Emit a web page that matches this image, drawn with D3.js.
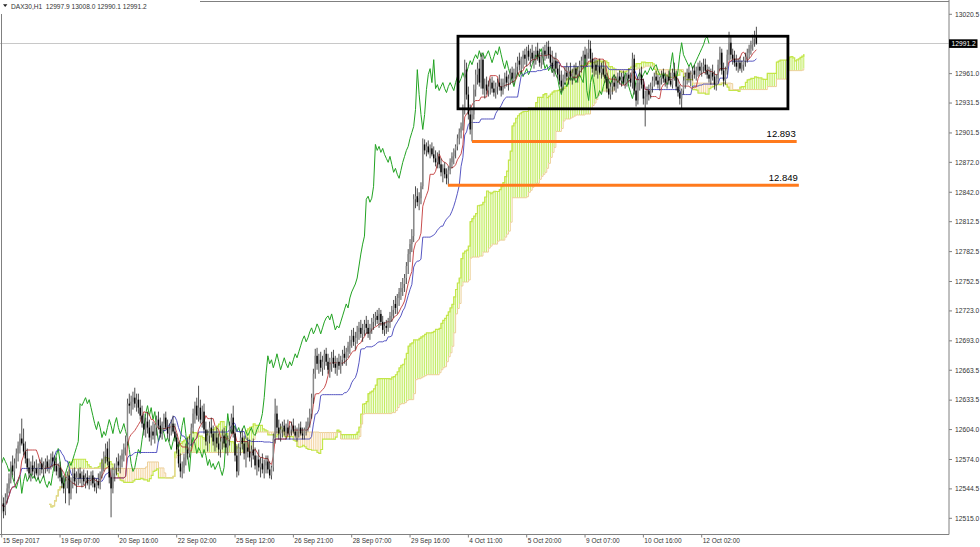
<!DOCTYPE html>
<html><head><meta charset="utf-8">
<script src="https://cdn.jsdelivr.net/npm/d3@7"></script>
<style>html,body{margin:0;padding:0;background:#fff;}svg{display:block;font-family:"Liberation Sans",Arial,sans-serif;}</style>
</head><body><svg id="c" width="980" height="547"></svg>
<script>
const symbolInfo = "DAX30,H1  12997.9 13008.0 12990.1 12991.2";
// [open, high, low, close] per hourly bar
const candles = [
[12528,12538,12520,12530],[12530,12536,12515,12522],[12522,12540,12518,12536],[12536,12550,12530,12545],[12545,12560,12540,12555],
[12555,12572,12550,12568],[12568,12578,12558,12562],[12562,12575,12552,12570],[12570,12585,12565,12580],[12580,12592,12572,12588],
[12588,12600,12580,12595],[12595,12615,12588,12590],[12590,12605,12578,12582],[12582,12592,12570,12575],[12575,12585,12562,12566],
[12566,12575,12555,12560],[12560,12572,12552,12568],[12568,12578,12558,12562],[12562,12572,12555,12565],[12565,12574,12558,12560],
[12560,12570,12554,12566],[12566,12574,12558,12570],[12570,12576,12560,12564],[12564,12572,12556,12568],[12568,12575,12560,12572],
[12572,12578,12562,12566],[12566,12574,12560,12570],[12570,12580,12564,12576],[12576,12582,12566,12572],[12572,12578,12562,12568],
[12568,12576,12558,12562],[12562,12570,12555,12566],[12566,12572,12552,12556],[12556,12564,12545,12550],[12550,12558,12540,12545],
[12545,12556,12530,12552],[12552,12562,12545,12558],[12558,12564,12528,12540],[12540,12556,12534,12552],[12552,12565,12545,12560],
[12560,12566,12548,12552],[12552,12562,12540,12556],[12556,12565,12548,12560],[12560,12566,12550,12555],[12555,12562,12546,12558],
[12558,12564,12548,12552],[12552,12560,12545,12556],[12556,12563,12548,12550],[12550,12558,12544,12554],[12554,12562,12548,12558],
[12558,12563,12546,12550],[12550,12556,12542,12546],[12546,12555,12540,12552],[12552,12560,12545,12548],[12548,12562,12544,12560],
[12560,12575,12555,12570],[12570,12582,12562,12578],[12578,12590,12570,12585],[12585,12592,12568,12572],[12572,12595,12550,12556],
[12556,12565,12516,12545],[12545,12566,12540,12560],[12560,12570,12552,12566],[12566,12576,12558,12572],[12572,12580,12562,12568],
[12568,12578,12560,12574],[12574,12584,12566,12580],[12580,12590,12572,12586],[12586,12598,12578,12592],[12592,12635,12588,12630],
[12630,12640,12620,12628],[12628,12638,12618,12632],[12632,12642,12624,12636],[12636,12646,12626,12630],[12630,12640,12622,12634],
[12634,12640,12620,12626],[12626,12634,12614,12618],[12618,12628,12606,12610],[12610,12620,12598,12604],[12604,12616,12596,12612],
[12612,12622,12600,12606],[12606,12614,12592,12596],[12596,12608,12588,12602],[12602,12612,12594,12598],[12598,12610,12590,12606],
[12606,12618,12598,12614],[12614,12622,12604,12608],[12608,12616,12596,12600],[12600,12612,12594,12610],[12610,12620,12602,12616],
[12616,12622,12604,12606],[12606,12614,12596,12600],[12600,12610,12592,12604],[12604,12614,12598,12610],[12610,12618,12600,12602],
[12602,12610,12592,12596],[12596,12600,12580,12584],[12584,12592,12566,12570],[12570,12580,12556,12562],[12562,12572,12555,12566],
[12566,12580,12560,12576],[12576,12590,12568,12584],[12584,12596,12574,12580],[12580,12598,12576,12594],[12594,12610,12588,12606],
[12606,12625,12600,12620],[12620,12632,12610,12628],[12628,12636,12614,12618],[12618,12648,12612,12626],[12626,12634,12610,12614],
[12614,12628,12606,12622],[12622,12630,12600,12604],[12604,12612,12588,12592],[12592,12604,12582,12598],[12598,12612,12590,12606],
[12606,12616,12596,12600],[12600,12608,12588,12592],[12592,12602,12582,12596],[12596,12606,12586,12590],[12590,12600,12578,12584],
[12584,12596,12576,12592],[12592,12604,12584,12598],[12598,12606,12586,12590],[12590,12600,12580,12586],[12586,12598,12578,12594],
[12594,12612,12588,12608],[12608,12620,12600,12616],[12616,12628,12596,12600],[12600,12606,12572,12578],[12578,12588,12556,12562],
[12562,12590,12558,12586],[12586,12602,12578,12596],[12596,12605,12584,12590],[12590,12598,12574,12580],[12580,12592,12566,12586],
[12586,12596,12576,12582],[12582,12594,12572,12576],[12576,12588,12566,12584],[12584,12595,12574,12578],[12578,12586,12564,12568],
[12568,12578,12558,12574],[12574,12584,12562,12566],[12566,12576,12556,12570],[12570,12580,12560,12564],[12564,12574,12555,12568],
[12568,12578,12560,12572],[12572,12578,12560,12564],[12564,12572,12555,12558],[12558,12568,12554,12566],[12566,12600,12562,12595],
[12595,12635,12590,12620],[12620,12628,12600,12606],[12606,12614,12594,12600],[12600,12610,12592,12604],[12604,12612,12596,12608],
[12608,12614,12598,12602],[12602,12610,12594,12606],[12606,12614,12598,12600],[12600,12608,12594,12604],[12604,12612,12598,12608],
[12608,12615,12600,12602],[12602,12608,12596,12598],[12598,12606,12592,12602],[12602,12610,12596,12606],[12606,12612,12598,12600],
[12600,12606,12594,12598],[12598,12606,12594,12604],[12604,12612,12598,12608],[12608,12616,12602,12612],[12612,12625,12606,12620],
[12620,12640,12615,12636],[12636,12665,12630,12660],[12660,12685,12655,12678],[12678,12686,12664,12670],[12670,12680,12660,12674],
[12674,12682,12662,12666],[12666,12678,12658,12672],[12672,12684,12664,12680],[12680,12686,12668,12672],[12672,12680,12660,12664],
[12664,12676,12656,12670],[12670,12682,12662,12676],[12676,12684,12666,12670],[12670,12678,12660,12666],[12666,12676,12658,12672],
[12672,12680,12664,12668],[12668,12678,12660,12674],[12674,12684,12668,12680],[12680,12688,12670,12676],[12676,12686,12668,12682],
[12682,12692,12676,12688],[12688,12698,12680,12694],[12694,12704,12686,12698],[12698,12706,12688,12692],[12692,12702,12684,12696],
[12696,12708,12690,12702],[12702,12712,12694,12706],[12706,12714,12696,12700],[12700,12710,12692,12704],[12704,12714,12698,12710],
[12710,12718,12700,12706],[12706,12714,12696,12700],[12700,12710,12694,12706],[12706,12716,12700,12712],[12712,12720,12704,12716],
[12716,12722,12708,12718],[12718,12724,12710,12714],[12714,12726,12706,12720],[12720,12724,12708,12712],[12712,12718,12700,12704],
[12704,12712,12698,12708],[12708,12714,12700,12706],[12706,12716,12702,12712],[12712,12722,12706,12718],[12718,12728,12712,12724],
[12724,12734,12716,12730],[12730,12738,12720,12726],[12726,12740,12720,12736],[12736,12746,12728,12742],[12742,12752,12734,12746],
[12746,12756,12738,12750],[12750,12760,12742,12756],[12756,12772,12750,12768],[12768,12785,12760,12780],[12780,12795,12772,12790],
[12790,12805,12782,12798],[12798,12840,12792,12835],[12835,12848,12826,12838],[12838,12846,12828,12832],[12832,12842,12824,12836],
[12836,12852,12830,12848],[12848,12896,12845,12890],[12890,12895,12880,12884],[12884,12892,12878,12888],[12888,12894,12880,12882],
[12882,12890,12876,12886],[12886,12892,12878,12880],[12880,12888,12872,12876],[12876,12884,12868,12872],[12872,12882,12866,12878],
[12878,12884,12866,12870],[12870,12876,12858,12862],[12862,12870,12852,12866],[12866,12872,12856,12860],[12860,12866,12850,12856],
[12856,12868,12849,12864],[12864,12876,12860,12872],[12872,12882,12866,12878],[12878,12886,12870,12884],[12884,12890,12876,12888],
[12888,12900,12884,12896],[12896,12906,12890,12902],[12902,12912,12896,12908],[12908,12930,12904,12925],[12925,12975,12920,12965],
[12965,12972,12935,12940],[12940,12948,12915,12920],[12920,12930,12900,12905],[12905,12925,12893,12920],[12920,12950,12915,12945],
[12945,12965,12938,12960],[12960,12972,12950,12966],[12966,12975,12948,12952],[12952,12982,12946,12975],[12975,12980,12940,12946],
[12946,12956,12936,12950],[12950,12958,12940,12944],[12944,12954,12938,12948],[12948,12956,12940,12952],[12952,12958,12942,12946],
[12946,12954,12938,12942],[12942,12952,12936,12948],[12948,12956,12940,12952],[12952,12960,12944,12948],[12948,12956,12938,12944],
[12944,12956,12940,12952],[12952,12962,12946,12958],[12958,12964,12948,12952],[12952,12960,12944,12956],[12956,12966,12950,12962],
[12962,12968,12952,12956],[12956,12966,12950,12962],[12962,12972,12956,12968],[12968,12978,12960,12974],[12974,12982,12964,12970],
[12970,12978,12960,12976],[12976,12984,12966,12980],[12980,12986,12970,12976],[12976,12988,12968,12984],[12984,12990,12974,12978],
[12978,12986,12968,12982],[12982,12990,12972,12976],[12976,12984,12966,12980],[12980,12988,12970,12984],[12984,12992,12974,12978],
[12978,12986,12968,12972],[12972,12982,12966,12978],[12978,12988,12970,12984],[12984,12990,12974,12980],[12980,12993,12976,12988],
[12988,12994,12976,12980],[12980,12988,12968,12972],[12972,12984,12962,12966],[12966,12978,12958,12974],[12974,12982,12962,12966],
[12966,12974,12956,12960],[12960,12970,12950,12954],[12954,12964,12942,12948],[12948,12960,12944,12956],[12956,12968,12950,12962],
[12962,12972,12954,12958],[12958,12968,12950,12964],[12964,12972,12954,12958],[12958,12966,12950,12962],[12962,12970,12954,12966],
[12966,12972,12956,12960],[12960,12968,12952,12964],[12964,12974,12958,12970],[12970,12978,12962,12974],[12974,12984,12966,12980],
[12980,12988,12970,12976],[12976,12986,12968,12982],[12982,12995,12976,12986],[12986,12994,12972,12976],[12976,12982,12962,12966],
[12966,12976,12958,12970],[12970,12976,12960,12964],[12964,12974,12956,12968],[12968,12976,12960,12962],[12962,12972,12956,12966],
[12966,12974,12958,12960],[12960,12968,12952,12956],[12956,12962,12942,12946],[12946,12956,12936,12940],[12940,12952,12935,12948],
[12948,12958,12940,12952],[12952,12960,12944,12948],[12948,12958,12942,12954],[12954,12962,12946,12958],[12958,12964,12950,12954],
[12954,12962,12948,12958],[12958,12964,12950,12952],[12952,12960,12946,12956],[12956,12962,12948,12960],[12960,12966,12952,12956],
[12956,12962,12948,12952],[12952,12982,12946,12976],[12976,12980,12940,12944],[12944,12952,12928,12934],[12934,12958,12930,12952],
[12952,12966,12944,12960],[12960,12968,12946,12950],[12950,12956,12930,12936],[12936,12944,12908,12938],[12938,12948,12930,12944],
[12944,12950,12934,12940],[12940,12952,12936,12948],[12948,12958,12942,12954],[12954,12962,12948,12958],[12958,12964,12950,12954],
[12954,12960,12946,12950],[12950,12958,12944,12956],[12956,12964,12950,12960],[12960,12966,12952,12956],[12956,12962,12948,12952],
[12952,12960,12946,12958],[12958,12964,12950,12954],[12954,12962,12948,12950],[12950,12966,12946,12962],[12962,12972,12954,12958],
[12958,12964,12944,12948],[12948,12956,12938,12942],[12942,12950,12930,12936],[12936,12946,12925,12944],[12944,12958,12940,12954],
[12954,12962,12946,12958],[12958,12966,12950,12962],[12962,12968,12952,12956],[12956,12964,12948,12960],[12960,12968,12954,12964],
[12964,12970,12956,12960],[12960,12968,12954,12964],[12964,12972,12958,12968],[12968,12974,12960,12964],[12964,12972,12958,12968],
[12968,12976,12962,12970],[12970,12976,12960,12964],[12964,12970,12956,12960],[12960,12968,12952,12956],[12956,12966,12950,12962],
[12962,12970,12954,12958],[12958,12964,12945,12950],[12950,12960,12944,12956],[12956,12975,12952,12970],[12970,12988,12964,12982],
[12982,12986,12960,12964],[12964,12972,12948,12954],[12954,12968,12950,12964],[12964,12985,12960,12980],[12980,13003,12974,12992],
[12992,12998,12975,12980],[12980,12986,12970,12976],[12976,12984,12968,12972],[12972,12980,12964,12968],[12968,12976,12962,12972],
[12972,12978,12964,12966],[12966,12974,12962,12970],[12970,12978,12964,12974],[12974,12982,12968,12978],[12978,12986,12972,12982],
[12982,12990,12976,12986],[12986,12994,12980,12990],[12990,13000,12984,12996],[12996,13004,12988,12998],[12997.9,13008.0,12990.1,12991.2]
];
const priceTicks = [13020.5,12961.0,12931.5,12901.5,12872.0,12842.0,12812.5,12782.5,12752.5,12723.0,12693.0,12663.5,12633.5,12604.0,12574.0,12544.5,12515.0];
const currentPrice = 12991.2;
const timeLabels = ["15 Sep 2017","19 Sep 07:00","20 Sep 16:00","22 Sep 02:00","25 Sep 12:00","26 Sep 21:00","28 Sep 07:00","29 Sep 16:00","4 Oct 11:00","5 Oct 20:00","9 Oct 07:00","10 Oct 16:00","12 Oct 02:00"];
const timeLabelBars = [0,32,64,96,128,160,192,224,256,288,320,352,384];
const levelPrices = [12893, 12849];
const levelLabels = ["12.893","12.849"];
const levelStartBars = [258, 244.8];
const levelEndBars = [436.1, 437.3];
const boxBars = [250.3, 431.3];
const boxPrices = [12998.5, 12925.7];
const tenkanLen = 9, kijunLen = 26, senkouLen = 52, ichiShift = 26;

const svg = d3.select("#c");
const plotR = 949, plotB = 534.5;
const x = d3.scaleLinear().domain([0, 384]).range([1.7, 701.7]);
const y = d3.scaleLinear().domain([12515.0, 13020.5]).range([518.3, 14.3]);

svg.append("defs").append("clipPath").attr("id","plot").append("rect")
  .attr("x",0).attr("y",0).attr("width",plotR).attr("height",plotB);
const g = svg.append("g").attr("clip-path","url(#plot)");

// Ichimoku computed from the candles
const N = candles.length;
function mid(i, len){
  const s = Math.max(0, i-len+1);
  let hi=-Infinity, lo=Infinity;
  for(let k=s;k<=i;k++){ hi=Math.max(hi,candles[k][1]); lo=Math.min(lo,candles[k][2]); }
  return (hi+lo)/2;
}
const tenkan = d3.range(N).map(i=>mid(i,tenkanLen));
const kijun = d3.range(N).map(i=>mid(i,kijunLen));
const spanB0 = d3.range(N).map(i=>mid(i,senkouLen));
const cloud = d3.range(N).map(i=>({i:i+ichiShift, a:(tenkan[i]+kijun[i])/2, b:spanB0[i]}));
const chikou = d3.range(ichiShift, N).map(i=>({i:i-ichiShift, v:candles[i][3]}));

// current price line
g.append("line").attr("x1",0).attr("x2",plotR).attr("y1",y(currentPrice)).attr("y2",y(currentPrice))
  .attr("stroke","#c8c8c8").attr("stroke-width",1);

// cloud hatch
g.selectAll("line.cl").data(cloud).join("line").attr("class","cl")
  .attr("x1",d=>x(d.i)).attr("x2",d=>x(d.i)).attr("y1",d=>y(d.a)).attr("y2",d=>y(d.b))
  .attr("stroke",d=>d.a>=d.b?"#c2ec60":"#f5d6a4").attr("stroke-width",1);
g.append("path").datum(cloud).attr("fill","none").attr("stroke","#c4e64a").attr("stroke-width",1.2)
  .attr("d",d3.line().x(d=>x(d.i)).y(d=>y(d.a)).curve(d3.curveStepAfter));
g.append("path").datum(cloud).attr("fill","none").attr("stroke","#eccf98").attr("stroke-width",1)
  .attr("d",d3.line().x(d=>x(d.i)).y(d=>y(d.b)).curve(d3.curveStepAfter));

// lines
g.append("path").datum(chikou).attr("fill","none").attr("stroke","#22a322").attr("stroke-width",1)
  .attr("d",d3.line().x(d=>x(d.i)).y(d=>y(d.v)));
g.append("path").datum(kijun).attr("fill","none").attr("stroke","#4444bb").attr("stroke-width",0.9)
  .attr("d",d3.line().x((d,i)=>x(i)).y(d=>y(d)));
g.append("path").datum(tenkan).attr("fill","none").attr("stroke","#c23a3a").attr("stroke-width",0.9)
  .attr("d",d3.line().x((d,i)=>x(i)).y(d=>y(d)));

// candles
const cg = g.append("g");
cg.selectAll("line.w").data(candles).join("line").attr("class","w")
  .attr("x1",(d,i)=>x(i)).attr("x2",(d,i)=>x(i)).attr("y1",d=>y(d[1])).attr("y2",d=>y(d[2]))
  .attr("stroke","#222").attr("stroke-width",0.8);
cg.selectAll("rect.b").data(candles).join("rect").attr("class","b")
  .attr("x",(d,i)=>x(i)-0.7).attr("width",1.4)
  .attr("y",d=>y(Math.max(d[0],d[3]))).attr("height",d=>Math.max(0.8,Math.abs(y(d[0])-y(d[3]))))
  .attr("fill",d=>d[3]>=d[0]?"#8a8a8a":"#000");

// box
g.append("rect").attr("x",x(boxBars[0])).attr("y",y(boxPrices[0]))
  .attr("width",x(boxBars[1])-x(boxBars[0])).attr("height",y(boxPrices[1])-y(boxPrices[0]))
  .attr("fill","none").attr("stroke","#000").attr("stroke-width",2.8);

// levels
levelPrices.forEach((p,k)=>{
  g.append("line").attr("x1",x(levelStartBars[k])).attr("x2",x(levelEndBars[k]))
    .attr("y1",y(p)).attr("y2",y(p)).attr("stroke","#ff7a1c").attr("stroke-width",3);
  g.append("text").attr("x",x(levelEndBars[k])-1).attr("y",y(p)-4.5).attr("text-anchor","end")
    .attr("font-size",9.5).attr("fill","#000").text(levelLabels[k]);
});

// frame
svg.append("line").attr("x1",plotR).attr("x2",plotR).attr("y1",0).attr("y2",plotB).attr("stroke","#808080");
svg.append("line").attr("x1",0).attr("x2",plotR).attr("y1",plotB).attr("y2",plotB).attr("stroke","#808080");
svg.append("line").attr("x1",1.5).attr("x2",1.5).attr("y1",14).attr("y2",plotB).attr("stroke","#808080");
svg.append("line").attr("x1",200).attr("x2",plotR).attr("y1",1.5).attr("y2",1.5).attr("stroke","#808080");

// price axis
const ya = svg.append("g");
priceTicks.forEach(p=>{
  ya.append("line").attr("x1",plotR).attr("x2",plotR+3).attr("y1",y(p)).attr("y2",y(p)).attr("stroke","#808080");
  ya.append("text").attr("x",plotR+6).attr("y",y(p)).attr("dy","0.35em").attr("font-size",6.7).attr("fill","#333").text(p.toFixed(1));
});
ya.append("rect").attr("x",plotR).attr("y",y(currentPrice)-4.2).attr("width",28.5).attr("height",8.6).attr("fill","#000");
ya.append("text").attr("x",plotR+2.5).attr("y",y(currentPrice)).attr("dy","0.35em").attr("font-size",6.7).attr("fill","#fff").text(currentPrice.toFixed(1));

// time axis
const xa = svg.append("g");
timeLabelBars.forEach((b,k)=>{
  xa.append("line").attr("x1",x(b)).attr("x2",x(b)).attr("y1",plotB).attr("y2",plotB+3).attr("stroke","#808080");
  xa.append("text").attr("x",x(b)+1).attr("y",542.5).attr("font-size",6.5).attr("fill","#333").text(timeLabels[k]);
});

// symbol info
svg.append("path").attr("d","M3,4.2 L7.4,4.2 L5.2,7 Z").attr("fill","#222");
svg.append("text").attr("x",11).attr("y",9).attr("font-size",6.6).attr("fill","#333").attr("xml:space","preserve").text(symbolInfo);
</script></body></html>
